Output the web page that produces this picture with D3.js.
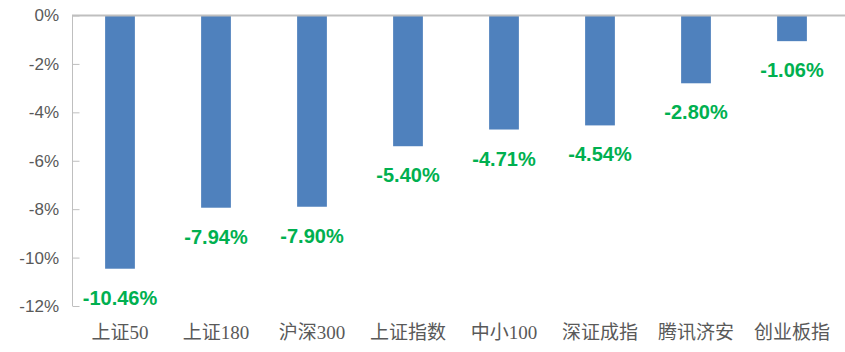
<!DOCTYPE html>
<html><head><meta charset="utf-8">
<script src="https://cdn.jsdelivr.net/npm/d3@7"></script>
<style>body{margin:0;background:#fff}svg{display:block}</style>
</head><body>
<svg id="c" width="845" height="352"></svg>
<script>
const categories = ["上证50","上证180","沪深300","上证指数","中小100","深证成指","腾讯济安","创业板指"];
const values = [-10.46,-7.94,-7.90,-5.40,-4.71,-4.54,-2.80,-1.06];
const yTicks = [0,-2,-4,-6,-8,-10,-12];

const svg = d3.select("#c");
const x = d3.scaleBand().domain(categories).range([72, 840]).paddingInner(0.69).paddingOuter(0.345);
const y = d3.scaleLinear().domain([-12, 0]).range([306, 15.5]);

// left axis
const ya = svg.append("g").attr("transform","translate(72,0)")
  .call(d3.axisRight(y).tickValues(yTicks).tickSize(7).tickFormat(d => d + "%"));
ya.select(".domain").attr("stroke","#BFBFBF").attr("d","M0.5," + y(0) + "V" + y(-12));
ya.selectAll(".tick line").attr("stroke","#BFBFBF").attr("transform","translate(0.5,0)");
ya.selectAll(".tick text").attr("x",-13).attr("text-anchor","end")
  .attr("fill","#595959").style("font-family","'Liberation Sans', Arial, sans-serif").style("font-size","17px");

// bars
svg.append("g").selectAll("rect").data(values).join("rect")
  .attr("x",(d,i)=>x(categories[i]))
  .attr("width",x.bandwidth())
  .attr("y",y(0))
  .attr("height",d=>y(d)-y(0))
  .attr("fill","#4F81BD");

// zero line
svg.append("line").attr("x1",72).attr("x2",845).attr("y1",y(0)).attr("y2",y(0))
  .attr("stroke","#BFBFBF").attr("stroke-width",2);

// value labels
svg.append("g").selectAll("text").data(values).join("text")
  .attr("x",(d,i)=>x(categories[i])+x.bandwidth()/2)
  .attr("y",d=>y(d)+36)
  .attr("text-anchor","middle")
  .attr("fill","#00B050")
  .style("font-family","'Liberation Sans', Arial, sans-serif")
  .style("font-weight","bold").style("font-size","20px")
  .text(d=>d.toFixed(2)+"%");

// category labels
svg.append("g").selectAll("text").data(categories).join("text")
  .attr("x",d=>x(d)+x.bandwidth()/2)
  .attr("y",339)
  .attr("text-anchor","middle")
  .attr("fill","#595959")
  .style("font-family","'Liberation Serif', 'Noto Sans CJK SC', serif")
  .style("font-size","19px")
  .text(d=>d);
</script>
</body></html>
